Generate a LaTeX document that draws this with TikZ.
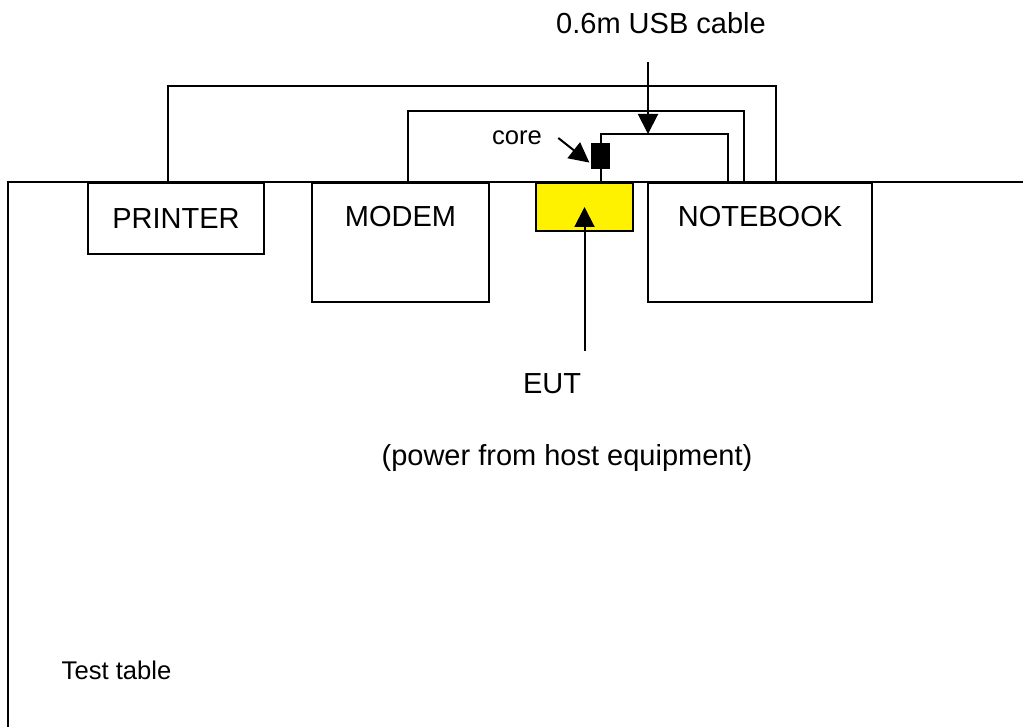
\documentclass[tikz,border=0pt]{standalone}
\usepackage{fontspec}
\setmainfont{Liberation Sans}
\usetikzlibrary{arrows.meta,positioning,calc}

\begin{document}
\begin{tikzpicture}[
  x=0.5pt, y=-0.5pt,
  box/.style={draw, line width=1pt, inner sep=0pt, fill=white},
  lbl/.style={inner sep=0pt, font=\fontsize{14.5}{17}\selectfont},
  smalllbl/.style={inner sep=0pt, font=\fontsize{12.8}{15}\selectfont},
  wire/.style={line width=1pt},
  arr/.style={-{Triangle[length=10pt, width=10pt]}, line width=1pt}
]
  \useasboundingbox (0,0) rectangle (1023,727);

  % test table edge
  \draw[wire] (8,727) |- (1023,182);

  % equipment on the table
  \node[box, minimum width=88pt, minimum height=35.5pt] (printer) at (176,218.5) {};
  \node[box, minimum width=88.5pt, minimum height=59.5pt] (modem) at (400.5,242.5) {};
  \node[box, minimum width=48.5pt, minimum height=24pt, fill=yellow] (eut) at (584.5,207) {};
  \node[box, minimum width=112pt, minimum height=59.5pt] (notebook) at (760,242.5) {};
  \node[lbl] at (printer.center) {PRINTER};
  \node[lbl] at (modem.north |- 0,217) {MODEM};
  \node[lbl] at (notebook.north |- 0,217) {NOTEBOOK};

  % ferrite core on the usb cable
  \node[draw, fill=black, line width=0.6pt, minimum width=8.5pt, minimum height=12pt, inner sep=0pt] (core) at (600.5,156) {};

  % cable ends on the notebook
  \coordinate (nbprn) at (776,182);
  \coordinate (nbmdm) at (744,182);
  \coordinate (nbusb) at (728,182);

  % cables
  \draw[wire] (168,182) |- (776,86) -- (nbprn);
  \draw[wire] (408,182) |- (744,111) -- (nbmdm);
  \draw[wire] (core.south) -- (core.south |- eut.north);
  \draw[wire] (core.north) |- (728,134) -- (nbusb);

  % labels and pointers
  \node[lbl] (usblbl) at (661,23) {0.6m USB cable};
  \coordinate (usbtip) at (648,134);
  \draw[arr] (648,62) -- (usbtip);

  \node[smalllbl] (corelbl) at (517,138) {core};
  \draw[arr] ([xshift=8pt]corelbl.east) -- ([shift={(-1pt,3pt)}]core.south west);

  \coordinate (euttail) at (584.5,351);
  \draw[arr] (euttail) -- (eut.center);
  \node[lbl] (eutlbl) at (552,383.5) {EUT};
  \node[lbl] (powerlbl) at (567,458.5) {(power from host equipment)};

  \node[smalllbl] (tablelbl) at (116.5,670) {Test table};
\end{tikzpicture}
\end{document}
